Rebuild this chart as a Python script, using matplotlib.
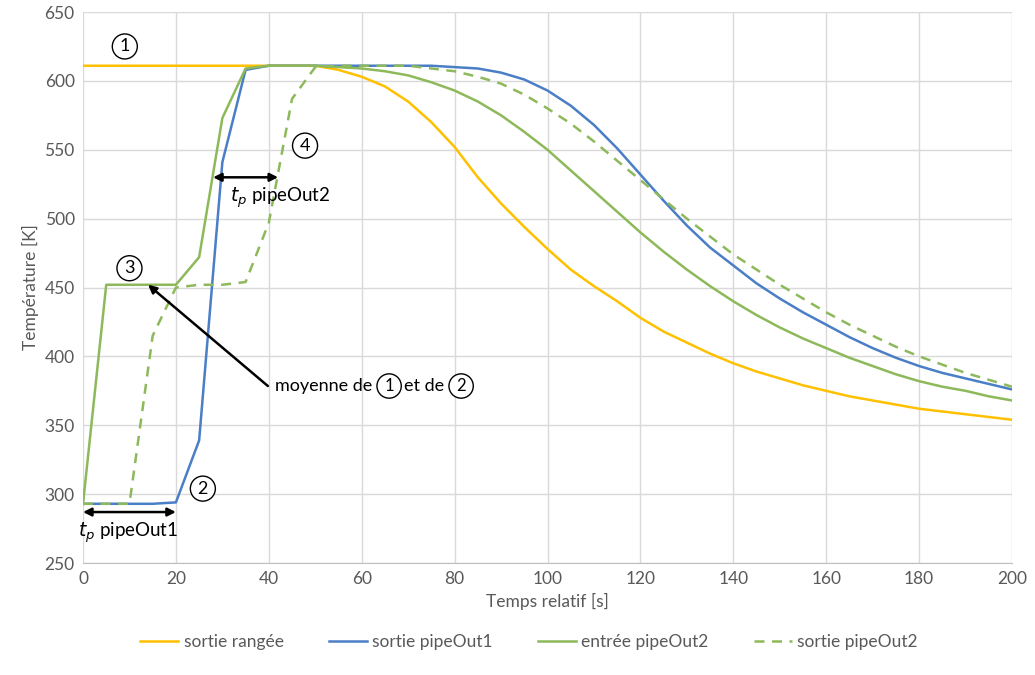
import numpy as np
import matplotlib.pyplot as plt

plt.rcParams['font.family'] = ['Lato', 'Noto Sans CJK JP', 'DejaVu Sans']

# time axis [s], 5 s steps
t = list(range(0, 201, 5))

sortie_rangee = [611, 611, 611, 611, 611, 611, 611, 611, 611, 611, 611,
                 608, 603, 596, 585, 570, 552, 530, 511, 494, 478,
                 463, 451, 440, 428, 418, 410, 402, 395, 389, 384,
                 379, 375, 371, 368, 365, 362, 360, 358, 356, 354]
sortie_pipeOut1 = [293, 293, 293, 293, 294, 339, 541, 608, 611, 611, 611,
                   611, 611, 611, 611, 611, 610, 609, 606, 601, 593,
                   582, 568, 551, 532, 513, 495, 479, 466, 453, 442,
                   432, 423, 414, 406, 399, 393, 388, 384, 380, 376]
entree_pipeOut2 = [293, 452, 452, 452, 452, 472, 573, 609, 611, 611, 611,
                   610, 609, 607, 604, 599, 593, 585, 575, 563, 550,
                   535, 520, 505, 490, 476, 463, 451, 440, 430, 421,
                   413, 406, 399, 393, 387, 382, 378, 375, 371, 368]
sortie_pipeOut2 = [293, 293, 293, 415, 450, 452, 452, 454, 497, 587, 610,
                   611, 611, 611, 611, 609, 607, 603, 598, 590, 580,
                   569, 556, 542, 528, 514, 500, 487, 474, 463, 452,
                   442, 432, 423, 415, 407, 400, 394, 388, 383, 378]

c_yel = '#FFC000'
c_blu = '#4A7EC6'
c_grn = '#8DB95B'
grey = '#595959'

fig = plt.figure(figsize=(10.35, 6.75), dpi=100)
ax = fig.add_axes([0.0802, 0.1659, 0.8976, 0.8163])

ax.plot(t, sortie_rangee, color=c_yel, lw=1.8, label='sortie rangée')
ax.plot(t, sortie_pipeOut1, color=c_blu, lw=1.8, label='sortie pipeOut1')
ax.plot(t, entree_pipeOut2, color=c_grn, lw=1.8, label='entrée pipeOut2')
ax.plot(t, sortie_pipeOut2, color=c_grn, lw=1.8, ls=(0, (4, 3)), label='sortie pipeOut2')

ax.set_xlim(0, 200)
ax.set_ylim(250, 650)
ax.set_xticks(range(0, 201, 20))
ax.set_yticks(range(250, 651, 50))
ax.grid(True, color='#D9D9D9', lw=1)
ax.set_axisbelow(True)
for s in ['top', 'right', 'left']:
    ax.spines[s].set_visible(False)
ax.spines['bottom'].set_color('#BFBFBF')
ax.tick_params(length=0, labelsize=12.5, colors=grey, pad=6)
ax.set_xlabel('Temps relatif [s]', fontsize=12.5, color=grey)
ax.set_ylabel('Température [K]', fontsize=12.5, color=grey)

# annotations
circ = dict(boxstyle='circle,pad=0.25', fc='white', ec='black', lw=1)
ax.text(9, 625, '1', fontsize=13, ha='center', va='center', bbox=circ)
ax.text(25.8, 304, '2', fontsize=13, ha='center', va='center', bbox=circ)
ax.text(10, 464, '3', fontsize=13, ha='center', va='center', bbox=circ)
ax.text(47.8, 553, '4', fontsize=13, ha='center', va='center', bbox=circ)

arr = dict(arrowstyle='<|-|>', color='black', lw=1.8, mutation_scale=12,
           shrinkA=0, shrinkB=0)
ax.annotate('', xy=(0, 287), xytext=(20, 287), arrowprops=arr)
ax.text(9.7, 272, r'$t_p$ pipeOut1', fontsize=13.5, ha='center', va='center')
ax.annotate('', xy=(28, 530), xytext=(42, 530), arrowprops=arr)
ax.text(42.4, 515, r'$t_p$ pipeOut2', fontsize=13.5, ha='center', va='center')

ax.annotate('', xy=(14, 452), xytext=(39.8, 378.5),
            arrowprops=dict(arrowstyle='-|>', color='black', lw=1.8,
                            mutation_scale=12, shrinkA=0, shrinkB=0))
ax.text(41.3, 378.5, 'moyenne de', fontsize=13, ha='left', va='center')
ax.text(65.9, 378.5, '1', fontsize=12, ha='center', va='center', bbox=circ)
ax.text(69.0, 378.5, 'et de', fontsize=13, ha='left', va='center')
ax.text(81.4, 378.5, '2', fontsize=12, ha='center', va='center', bbox=circ)

ax.legend(loc='upper center', bbox_to_anchor=(0.48, -0.1), ncol=4,
          frameon=False, fontsize=12.5, labelcolor=grey, handlelength=2.2,
          handletextpad=0.3, columnspacing=2.6)

fig.savefig('out.png', dpi=100)
